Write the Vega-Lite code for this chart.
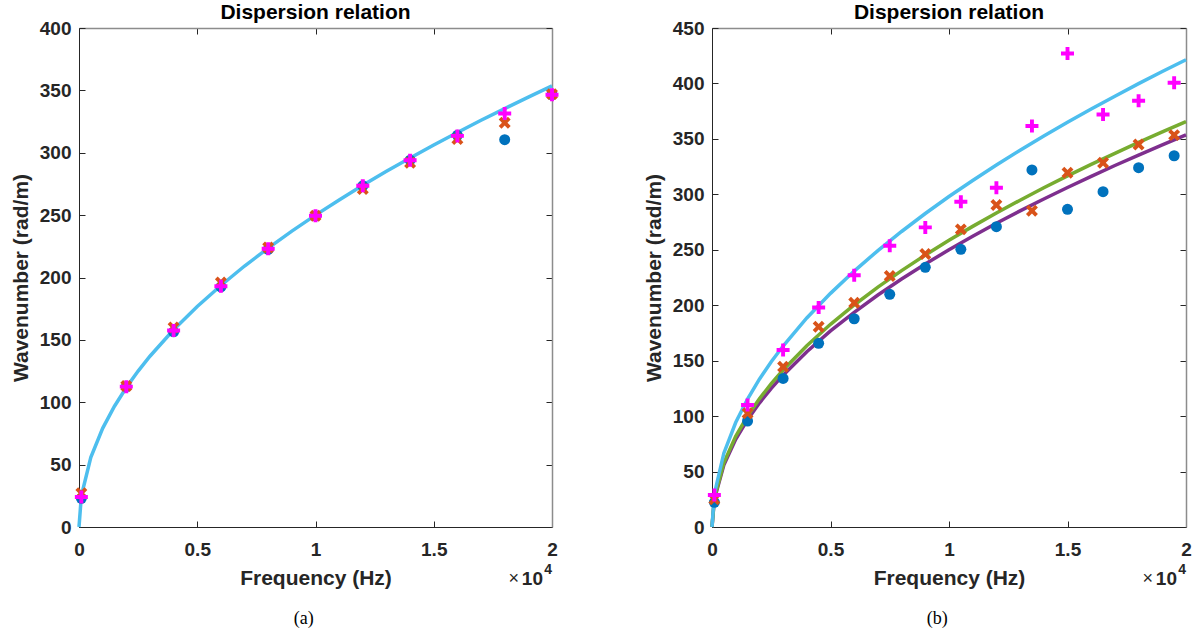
{
  "$schema": "https://vega.github.io/schema/vega-lite/v6.json",
  "padding": {"left": 10, "top": 2, "right": 0, "bottom": 0},
  "spacing": 84,
  "config": {
    "view": {"stroke": null},
    "font": "Liberation Sans",
    "axis": {
      "labelFont": "Liberation Sans", "labelFontSize": 19, "labelFontWeight": "bold", "labelColor": "#262626", "labelFlush": false,
      "titleFont": "Liberation Sans", "titleFontSize": 21, "titleFontWeight": "bold", "titleColor": "#262626",
      "domainColor": "#262626", "domainWidth": 1, "tickColor": "#262626", "tickWidth": 1, "grid": false
    }
  },
  "datasets": {
    "lineA": [
      {"f": 0, "k": 0}, {"f": 100, "k": 25}, {"f": 500, "k": 55.9}, {"f": 1000, "k": 79.1}, {"f": 1500, "k": 96.8},
      {"f": 2000, "k": 111.8}, {"f": 2500, "k": 125}, {"f": 3000, "k": 136.9}, {"f": 4000, "k": 158.1}, {"f": 5000, "k": 176.8},
      {"f": 6000, "k": 193.6}, {"f": 7000, "k": 209.2}, {"f": 8000, "k": 223.6}, {"f": 9000, "k": 237.2}, {"f": 10000, "k": 250},
      {"f": 11000, "k": 262.2}, {"f": 12000, "k": 273.9}, {"f": 13000, "k": 285.1}, {"f": 14000, "k": 295.8}, {"f": 15000, "k": 306.2},
      {"f": 16000, "k": 316.2}, {"f": 17000, "k": 326}, {"f": 18000, "k": 335.4}, {"f": 19000, "k": 344.6}, {"f": 20000, "k": 353.6}
    ],
    "ptsA": [
      {"f": 100, "k": 23, "s": "circle"}, {"f": 2000, "k": 112.5, "s": "circle"}, {"f": 4000, "k": 156.5, "s": "circle"},
      {"f": 6000, "k": 192.5, "s": "circle"}, {"f": 8000, "k": 222.5, "s": "circle"}, {"f": 10000, "k": 249.5, "s": "circle"},
      {"f": 12000, "k": 273.5, "s": "circle"}, {"f": 14000, "k": 294, "s": "circle"}, {"f": 16000, "k": 314, "s": "circle"},
      {"f": 18000, "k": 310.5, "s": "circle"}, {"f": 20000, "k": 346.5, "s": "circle"},
      {"f": 100, "k": 27, "s": "x"}, {"f": 2000, "k": 113, "s": "x"}, {"f": 4000, "k": 160, "s": "x"},
      {"f": 6000, "k": 196, "s": "x"}, {"f": 8000, "k": 224, "s": "x"}, {"f": 10000, "k": 249.5, "s": "x"},
      {"f": 12000, "k": 271, "s": "x"}, {"f": 14000, "k": 292, "s": "x"}, {"f": 16000, "k": 311, "s": "x"},
      {"f": 18000, "k": 324, "s": "x"}, {"f": 20000, "k": 347, "s": "x"},
      {"f": 100, "k": 24, "s": "plus"}, {"f": 2000, "k": 112.5, "s": "plus"}, {"f": 4000, "k": 157.5, "s": "plus"},
      {"f": 6000, "k": 193, "s": "plus"}, {"f": 8000, "k": 223, "s": "plus"}, {"f": 10000, "k": 249.5, "s": "plus"},
      {"f": 12000, "k": 273.5, "s": "plus"}, {"f": 14000, "k": 294, "s": "plus"}, {"f": 16000, "k": 313.5, "s": "plus"},
      {"f": 18000, "k": 331.5, "s": "plus"}, {"f": 20000, "k": 346.5, "s": "plus"}
    ],
    "linesB": [
      {"f": 0, "k": 0, "c": "purple"}, {"f": 100, "k": 25, "c": "purple"}, {"f": 500, "k": 55.9, "c": "purple"}, {"f": 1000, "k": 79.1, "c": "purple"},
      {"f": 1500, "k": 96.8, "c": "purple"}, {"f": 2000, "k": 111.8, "c": "purple"}, {"f": 2500, "k": 125, "c": "purple"}, {"f": 3000, "k": 136.9, "c": "purple"},
      {"f": 4000, "k": 158.1, "c": "purple"}, {"f": 5000, "k": 176.8, "c": "purple"}, {"f": 6000, "k": 193.6, "c": "purple"}, {"f": 7000, "k": 209.2, "c": "purple"},
      {"f": 8000, "k": 223.6, "c": "purple"}, {"f": 9000, "k": 237.2, "c": "purple"}, {"f": 10000, "k": 250, "c": "purple"}, {"f": 11000, "k": 262.2, "c": "purple"},
      {"f": 12000, "k": 273.9, "c": "purple"}, {"f": 13000, "k": 285.1, "c": "purple"}, {"f": 14000, "k": 295.8, "c": "purple"}, {"f": 15000, "k": 306.2, "c": "purple"},
      {"f": 16000, "k": 316.2, "c": "purple"}, {"f": 17000, "k": 326, "c": "purple"}, {"f": 18000, "k": 335.4, "c": "purple"}, {"f": 19000, "k": 344.6, "c": "purple"},
      {"f": 20000, "k": 353.6, "c": "purple"},
      {"f": 0, "k": 0, "c": "green"}, {"f": 100, "k": 25.9, "c": "green"}, {"f": 500, "k": 57.8, "c": "green"}, {"f": 1000, "k": 81.7, "c": "green"},
      {"f": 1500, "k": 100.1, "c": "green"}, {"f": 2000, "k": 115.6, "c": "green"}, {"f": 2500, "k": 129.3, "c": "green"}, {"f": 3000, "k": 141.6, "c": "green"},
      {"f": 4000, "k": 163.5, "c": "green"}, {"f": 5000, "k": 182.8, "c": "green"}, {"f": 6000, "k": 200.2, "c": "green"}, {"f": 7000, "k": 216.3, "c": "green"},
      {"f": 8000, "k": 231.2, "c": "green"}, {"f": 9000, "k": 245.2, "c": "green"}, {"f": 10000, "k": 258.5, "c": "green"}, {"f": 11000, "k": 271.1, "c": "green"},
      {"f": 12000, "k": 283.2, "c": "green"}, {"f": 13000, "k": 294.7, "c": "green"}, {"f": 14000, "k": 305.9, "c": "green"}, {"f": 15000, "k": 316.6, "c": "green"},
      {"f": 16000, "k": 327, "c": "green"}, {"f": 17000, "k": 337, "c": "green"}, {"f": 18000, "k": 346.8, "c": "green"}, {"f": 19000, "k": 356.3, "c": "green"},
      {"f": 20000, "k": 365.6, "c": "green"},
      {"f": 0, "k": 0, "c": "cyan"}, {"f": 100, "k": 29.8, "c": "cyan"}, {"f": 500, "k": 66.6, "c": "cyan"}, {"f": 1000, "k": 94.2, "c": "cyan"},
      {"f": 1500, "k": 115.4, "c": "cyan"}, {"f": 2000, "k": 133.3, "c": "cyan"}, {"f": 2500, "k": 149, "c": "cyan"}, {"f": 3000, "k": 163.2, "c": "cyan"},
      {"f": 4000, "k": 188.5, "c": "cyan"}, {"f": 5000, "k": 210.7, "c": "cyan"}, {"f": 6000, "k": 230.8, "c": "cyan"}, {"f": 7000, "k": 249.3, "c": "cyan"},
      {"f": 8000, "k": 266.5, "c": "cyan"}, {"f": 9000, "k": 282.7, "c": "cyan"}, {"f": 10000, "k": 298, "c": "cyan"}, {"f": 11000, "k": 312.5, "c": "cyan"},
      {"f": 12000, "k": 326.4, "c": "cyan"}, {"f": 13000, "k": 339.8, "c": "cyan"}, {"f": 14000, "k": 352.6, "c": "cyan"}, {"f": 15000, "k": 365, "c": "cyan"},
      {"f": 16000, "k": 376.9, "c": "cyan"}, {"f": 17000, "k": 388.5, "c": "cyan"}, {"f": 18000, "k": 399.8, "c": "cyan"}, {"f": 19000, "k": 410.8, "c": "cyan"},
      {"f": 20000, "k": 421.4, "c": "cyan"}
    ],
    "ptsB": [
      {"f": 100, "k": 22.3, "s": "circle"}, {"f": 1500, "k": 95.6, "s": "circle"}, {"f": 3000, "k": 134, "s": "circle"},
      {"f": 4500, "k": 165.6, "s": "circle"}, {"f": 6000, "k": 187.8, "s": "circle"}, {"f": 7500, "k": 209.8, "s": "circle"},
      {"f": 9000, "k": 234.2, "s": "circle"}, {"f": 10500, "k": 250.4, "s": "circle"}, {"f": 12000, "k": 270.8, "s": "circle"},
      {"f": 13500, "k": 322, "s": "circle"}, {"f": 15000, "k": 286.5, "s": "circle"}, {"f": 16500, "k": 302.4, "s": "circle"},
      {"f": 18000, "k": 324, "s": "circle"}, {"f": 19500, "k": 334.8, "s": "circle"},
      {"f": 100, "k": 25, "s": "x"}, {"f": 1500, "k": 102.5, "s": "x"}, {"f": 3000, "k": 144.5, "s": "x"},
      {"f": 4500, "k": 180.6, "s": "x"}, {"f": 6000, "k": 202.3, "s": "x"}, {"f": 7500, "k": 226.3, "s": "x"},
      {"f": 9000, "k": 246.2, "s": "x"}, {"f": 10500, "k": 268.4, "s": "x"}, {"f": 12000, "k": 290.3, "s": "x"},
      {"f": 13500, "k": 285.2, "s": "x"}, {"f": 15000, "k": 319.5, "s": "x"}, {"f": 16500, "k": 328.5, "s": "x"},
      {"f": 18000, "k": 345, "s": "x"}, {"f": 19500, "k": 353.4, "s": "x"},
      {"f": 100, "k": 28.9, "s": "plus"}, {"f": 1500, "k": 110, "s": "plus"}, {"f": 3000, "k": 159.6, "s": "plus"},
      {"f": 4500, "k": 198, "s": "plus"}, {"f": 6000, "k": 227, "s": "plus"}, {"f": 7500, "k": 253.6, "s": "plus"},
      {"f": 9000, "k": 270.2, "s": "plus"}, {"f": 10500, "k": 293.3, "s": "plus"}, {"f": 12000, "k": 306, "s": "plus"},
      {"f": 13500, "k": 361.6, "s": "plus"}, {"f": 15000, "k": 427, "s": "plus"}, {"f": 16500, "k": 372, "s": "plus"},
      {"f": 18000, "k": 384.4, "s": "plus"}, {"f": 19500, "k": 400.6, "s": "plus"}
    ]
  },
  "hconcat": [
    {
      "width": 473, "height": 499,
      "title": {"text": "Dispersion relation", "font": "Liberation Sans", "fontSize": 21, "fontWeight": "bold", "color": "#000000", "offset": -4},
      "resolve": {"axis": {"x": "independent", "y": "independent"}},
      "layer": [
        {
          "data": {"name": "lineA"},
          "mark": {"type": "line", "color": "#4DBEEE", "strokeWidth": 3.5},
          "encoding": {
            "x": {"field": "f", "type": "quantitative", "scale": {"domain": [0, 20000], "nice": false},
              "axis": {"orient": "bottom", "values": [0, 5000, 10000, 15000, 20000], "labelExpr": "datum.value / 10000", "labelFlush": false, "title": "Frequency (Hz)", "tickSize": -6, "labelPadding": 19, "titlePadding": 8}},
            "y": {"field": "k", "type": "quantitative", "scale": {"domain": [0, 400], "nice": false},
              "axis": {"orient": "left", "values": [0, 50, 100, 150, 200, 250, 300, 350, 400], "title": "Wavenumber (rad/m)", "tickSize": -6, "labelPadding": 14, "titlePadding": 8}}
          }
        },
        {
          "data": {"name": "ptsA"},
          "transform": [{"filter": "datum.s == 'circle'"}],
          "mark": {"type": "point", "shape": "circle", "filled": true, "color": "#0072BD", "opacity": 1, "size": 121},
          "encoding": {"x": {"field": "f", "type": "quantitative", "axis": null}, "y": {"field": "k", "type": "quantitative", "axis": null}}
        },
        {
          "data": {"name": "ptsA"},
          "transform": [{"filter": "datum.s == 'x'"}],
          "mark": {"type": "point", "shape": "M-1,-0.3H-0.3V-1H0.3V-0.3H1V0.3H0.3V1H-0.3V0.3H-1Z", "angle": 45, "filled": true, "color": "#D95319", "opacity": 1, "size": 169},
          "encoding": {"x": {"field": "f", "type": "quantitative", "axis": null}, "y": {"field": "k", "type": "quantitative", "axis": null}}
        },
        {
          "data": {"name": "ptsA"},
          "transform": [{"filter": "datum.s == 'plus'"}],
          "mark": {"type": "point", "shape": "M-1,-0.3H-0.3V-1H0.3V-0.3H1V0.3H0.3V1H-0.3V0.3H-1Z", "filled": true, "color": "#FF00FF", "opacity": 1, "size": 169},
          "encoding": {"x": {"field": "f", "type": "quantitative", "axis": null}, "y": {"field": "k", "type": "quantitative", "axis": null}}
        },
        {
          "data": {"name": "ptsA"},
          "mark": {"type": "point", "opacity": 0},
          "encoding": {
            "x": {"field": "f", "type": "quantitative", "axis": {"orient": "top", "values": [0, 5000, 10000, 15000, 20000], "labels": false, "title": null, "tickSize": -6, "domainColor": "#8c8c8c", "domainWidth": 1.5}},
            "y": {"field": "k", "type": "quantitative", "axis": {"orient": "right", "values": [0, 50, 100, 150, 200, 250, 300, 350, 400], "labels": false, "title": null, "tickSize": -6, "domainColor": "#8c8c8c", "domainWidth": 1.5}}
          }
        },
        {
          "data": {"values": [{}]},
          "mark": {"type": "text", "align": "right", "baseline": "middle", "dx": -33, "dy": 52, "fontSize": 18, "font": "Liberation Sans", "color": "#262626"},
          "encoding": {"x": {"datum": 20000, "type": "quantitative", "axis": null}, "y": {"datum": 0, "type": "quantitative", "axis": null}, "text": {"value": "×"}}
        },
        {
          "data": {"values": [{}]},
          "mark": {"type": "text", "align": "right", "baseline": "middle", "dx": -9, "dy": 52, "fontSize": 19, "fontWeight": "bold", "font": "Liberation Sans", "color": "#262626"},
          "encoding": {"x": {"datum": 20000, "type": "quantitative", "axis": null}, "y": {"datum": 0, "type": "quantitative", "axis": null}, "text": {"value": "10"}}
        },
        {
          "data": {"values": [{}]},
          "mark": {"type": "text", "align": "right", "baseline": "middle", "dx": 0, "dy": 43, "fontSize": 14, "fontWeight": "bold", "font": "Liberation Sans", "color": "#262626"},
          "encoding": {"x": {"datum": 20000, "type": "quantitative", "axis": null}, "y": {"datum": 0, "type": "quantitative", "axis": null}, "text": {"value": "4"}}
        },
        {
          "data": {"values": [{}]},
          "mark": {"type": "text", "align": "center", "baseline": "middle", "dy": 92, "fontSize": 18, "font": "Liberation Serif", "color": "#000000"},
          "encoding": {"x": {"datum": 9500, "type": "quantitative", "axis": null}, "y": {"datum": 0, "type": "quantitative", "axis": null}, "text": {"value": "(a)"}}
        }
      ]
    },
    {
      "width": 474, "height": 499,
      "title": {"text": "Dispersion relation", "font": "Liberation Sans", "fontSize": 21, "fontWeight": "bold", "color": "#000000", "offset": -4},
      "resolve": {"axis": {"x": "independent", "y": "independent"}},
      "layer": [
        {
          "data": {"name": "linesB"},
          "mark": {"type": "line", "strokeWidth": 3.5},
          "encoding": {
            "x": {"field": "f", "type": "quantitative", "scale": {"domain": [0, 20000], "nice": false},
              "axis": {"orient": "bottom", "values": [0, 5000, 10000, 15000, 20000], "labelExpr": "datum.value / 10000", "labelFlush": false, "title": "Frequency (Hz)", "tickSize": -6, "labelPadding": 19, "titlePadding": 8}},
            "y": {"field": "k", "type": "quantitative", "scale": {"domain": [0, 450], "nice": false},
              "axis": {"orient": "left", "values": [0, 50, 100, 150, 200, 250, 300, 350, 400, 450], "title": "Wavenumber (rad/m)", "tickSize": -6, "labelPadding": 14, "titlePadding": 8}},
            "color": {"field": "c", "type": "nominal", "scale": {"domain": ["purple", "green", "cyan"], "range": ["#7E2F8E", "#77AC30", "#4DBEEE"]}, "legend": null}
          }
        },
        {
          "data": {"name": "ptsB"},
          "transform": [{"filter": "datum.s == 'circle'"}],
          "mark": {"type": "point", "shape": "circle", "filled": true, "color": "#0072BD", "opacity": 1, "size": 121},
          "encoding": {"x": {"field": "f", "type": "quantitative", "axis": null}, "y": {"field": "k", "type": "quantitative", "axis": null}}
        },
        {
          "data": {"name": "ptsB"},
          "transform": [{"filter": "datum.s == 'x'"}],
          "mark": {"type": "point", "shape": "M-1,-0.3H-0.3V-1H0.3V-0.3H1V0.3H0.3V1H-0.3V0.3H-1Z", "angle": 45, "filled": true, "color": "#D95319", "opacity": 1, "size": 169},
          "encoding": {"x": {"field": "f", "type": "quantitative", "axis": null}, "y": {"field": "k", "type": "quantitative", "axis": null}}
        },
        {
          "data": {"name": "ptsB"},
          "transform": [{"filter": "datum.s == 'plus'"}],
          "mark": {"type": "point", "shape": "M-1,-0.3H-0.3V-1H0.3V-0.3H1V0.3H0.3V1H-0.3V0.3H-1Z", "filled": true, "color": "#FF00FF", "opacity": 1, "size": 169},
          "encoding": {"x": {"field": "f", "type": "quantitative", "axis": null}, "y": {"field": "k", "type": "quantitative", "axis": null}}
        },
        {
          "data": {"name": "ptsB"},
          "mark": {"type": "point", "opacity": 0},
          "encoding": {
            "x": {"field": "f", "type": "quantitative", "axis": {"orient": "top", "values": [0, 5000, 10000, 15000, 20000], "labels": false, "title": null, "tickSize": -6, "domainColor": "#8c8c8c", "domainWidth": 1.5}},
            "y": {"field": "k", "type": "quantitative", "axis": {"orient": "right", "values": [0, 50, 100, 150, 200, 250, 300, 350, 400, 450], "labels": false, "title": null, "tickSize": -6, "domainColor": "#8c8c8c", "domainWidth": 1.5}}
          }
        },
        {
          "data": {"values": [{}]},
          "mark": {"type": "text", "align": "right", "baseline": "middle", "dx": -33, "dy": 52, "fontSize": 18, "font": "Liberation Sans", "color": "#262626"},
          "encoding": {"x": {"datum": 20000, "type": "quantitative", "axis": null}, "y": {"datum": 0, "type": "quantitative", "axis": null}, "text": {"value": "×"}}
        },
        {
          "data": {"values": [{}]},
          "mark": {"type": "text", "align": "right", "baseline": "middle", "dx": -9, "dy": 52, "fontSize": 19, "fontWeight": "bold", "font": "Liberation Sans", "color": "#262626"},
          "encoding": {"x": {"datum": 20000, "type": "quantitative", "axis": null}, "y": {"datum": 0, "type": "quantitative", "axis": null}, "text": {"value": "10"}}
        },
        {
          "data": {"values": [{}]},
          "mark": {"type": "text", "align": "right", "baseline": "middle", "dx": 0, "dy": 43, "fontSize": 14, "fontWeight": "bold", "font": "Liberation Sans", "color": "#262626"},
          "encoding": {"x": {"datum": 20000, "type": "quantitative", "axis": null}, "y": {"datum": 0, "type": "quantitative", "axis": null}, "text": {"value": "4"}}
        },
        {
          "data": {"values": [{}]},
          "mark": {"type": "text", "align": "center", "baseline": "middle", "dy": 92, "fontSize": 18, "font": "Liberation Serif", "color": "#000000"},
          "encoding": {"x": {"datum": 9500, "type": "quantitative", "axis": null}, "y": {"datum": 0, "type": "quantitative", "axis": null}, "text": {"value": "(b)"}}
        }
      ]
    }
  ]
}
